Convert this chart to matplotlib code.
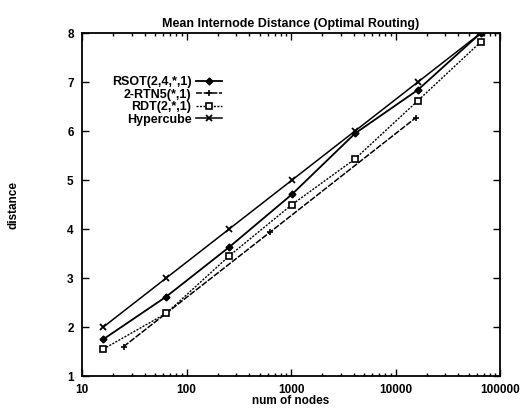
import matplotlib
matplotlib.use('Agg')
import matplotlib.pyplot as plt
from matplotlib.ticker import LogLocator, NullFormatter, FixedLocator

# Data
pow4_nodes = [16, 64, 256, 1024, 4096, 16384, 65536]
rtn_nodes = [25, 625, 15625]

rsot = [1.75, 2.62, 3.63, 4.71, 5.95, 6.84, 8.0]
rtn5 = [1.6, 3.93, 6.27]
rdt = [1.55, 2.28, 3.45, 4.5, 5.43, 6.62, 7.82]
hypercube = [2, 3, 4, 5, 6, 7, 8]

x_ticks = [10, 100, 1000, 10000, 100000]
x_labels = ['10', '100', '1000', '10000', '100000']
y_ticks = [1, 2, 3, 4, 5, 6, 7, 8]

plt.rcParams['font.family'] = ['Liberation Sans', 'DejaVu Sans']
plt.rcParams['font.weight'] = 'bold'

fig = plt.figure(figsize=(5.27, 4.08), dpi=100)
ax = fig.add_axes([0.1556, 0.0784, 0.7932, 0.8407])

ax.plot(pow4_nodes, rsot, color='black', lw=1.3, ls='-', marker='D',
        ms=3.5, label='RSOT(2,4,*,1)')
ax.plot(rtn_nodes, rtn5, color='black', lw=1.1, ls=(0, (4, 1)), marker='+',
        ms=4, mew=1.2, label='2-RTN5(*,1)')
ax.plot(pow4_nodes, rdt, color='black', lw=1.0, ls=(0, (1.5, 1)), marker='s',
        ms=4, mfc='white', mew=1.2, label='RDT(2,*,1)')
ax.plot(pow4_nodes, hypercube, color='black', lw=1.1, ls='-', marker='x',
        ms=4.5, mew=1.3, label='Hypercube')

ax.set_xscale('log')
ax.set_xlim(10, 100000)
ax.set_ylim(1, 8)
ax.xaxis.set_major_locator(FixedLocator(x_ticks))
ax.set_xticklabels(x_labels)
ax.xaxis.set_minor_locator(LogLocator(base=10, subs=range(2, 10)))
ax.xaxis.set_minor_formatter(NullFormatter())
ax.set_yticks(y_ticks)

ax.tick_params(which='both', direction='in', top=True, right=True,
               labelsize=8.5, width=1.0, pad=6)
ax.tick_params(which='major', length=5)
ax.tick_params(which='minor', length=2.5)
for s in ax.spines.values():
    s.set_linewidth(1.3)

ax.set_title('Mean Internode Distance (Optimal Routing)', fontsize=9,
             fontweight='bold', pad=4)
ax.set_xlabel('num of nodes', fontsize=8.5, fontweight='bold', labelpad=-1)
ax.set_ylabel('distance', fontsize=8.5, fontweight='bold', labelpad=34)

ax.legend(loc='upper right', bbox_to_anchor=(0.335, 0.875), frameon=False,
          markerfirst=False, fontsize=9, handlelength=2.1, handletextpad=0.35,
          labelspacing=0.05, borderpad=0, borderaxespad=0)

fig.savefig('out.png', dpi=100)
